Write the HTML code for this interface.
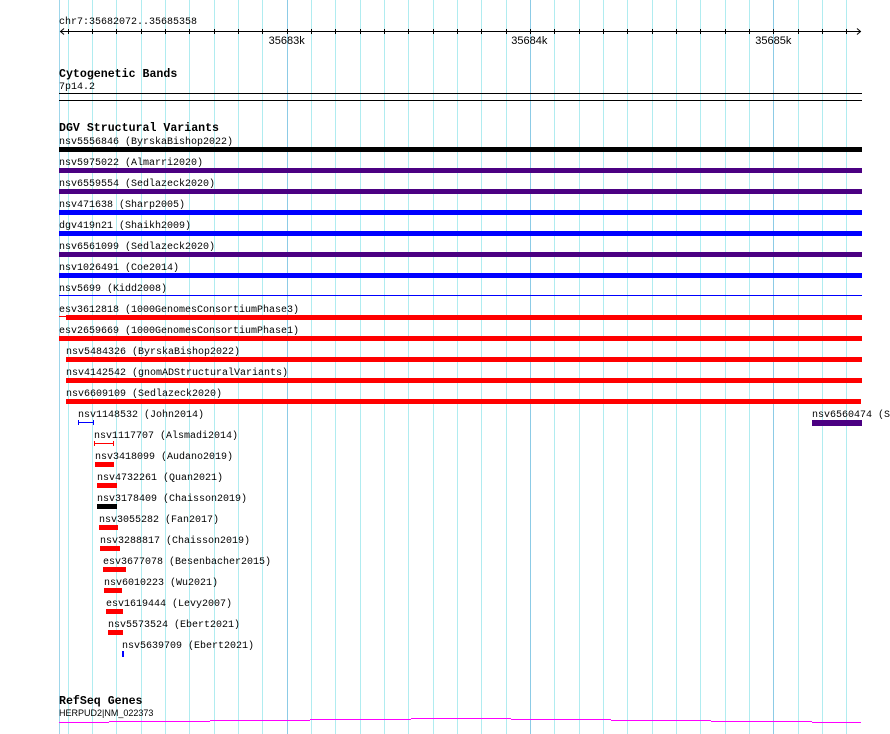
<!DOCTYPE html>
<html><head><meta charset="utf-8"><style>
html,body{margin:0;padding:0;background:#fff;}
svg{display:block;}
.m{font-family:"Liberation Mono",monospace;font-size:10px;fill:#000;}
.b{font-family:"Liberation Mono",monospace;font-size:11.6px;font-weight:bold;fill:#000;}
.s{font-family:"Liberation Sans",sans-serif;font-size:11px;fill:#000;}
</style></head><body>
<svg width="890" height="734" xmlns="http://www.w3.org/2000/svg">
<rect width="890" height="734" fill="#fff"/>
<g id="grid" stroke-width="1"></g>
<g id="main"></g>
<script>
var g=document.getElementById('grid'),m=document.getElementById('main');
var NS='http://www.w3.org/2000/svg';
function el(p,tag,a,t){var e=document.createElementNS(NS,tag);for(var k in a)e.setAttribute(k,a[k]);if(t)e.textContent=t;p.appendChild(e);return e;}
el(g,'line',{x1:59.5,x2:59.5,y1:0,y2:734,stroke:'#9fd6ea'});
for(var i=0;i<=32;i++){var x=Math.round(67.7+24.33*i)+0.5;var maj=(i==9||i==19||i==29);
el(g,'line',{x1:x,x2:x,y1:0,y2:734,stroke:maj?'#8ccbe6':'#b0ecf0'});}
el(m,'text',{x:59,y:24,'class':'m'},'chr7:35682072..35685358');
el(m,'line',{x1:60,x2:861,y1:31.5,y2:31.5,stroke:'#000'});
el(m,'polyline',{points:'64,28.5 60.5,31.5 64,34.5',fill:'none',stroke:'#000'});
el(m,'polyline',{points:'857,28.5 860.5,31.5 857,34.5',fill:'none',stroke:'#000'});
for(var i=0;i<=32;i++){var x=Math.round(67.7+24.33*i)+0.5;el(m,'line',{x1:x,x2:x,y1:29,y2:34,stroke:'#000'});}
[[286.7,'35683k'],[529.3,'35684k'],[773.3,'35685k']].forEach(function(a){el(m,'text',{x:a[0],y:44,'class':'s','text-anchor':'middle'},a[1]);});
el(m,'text',{x:59,y:77,'class':'b'},'Cytogenetic Bands');
el(m,'text',{x:59,y:89,'class':'m'},'7p14.2');
el(m,'rect',{x:59,y:93,width:803,height:1,fill:'#000'});
el(m,'rect',{x:59,y:100,width:803,height:1,fill:'#000'});
el(m,'text',{x:59,y:131,'class':'b'},'DGV Structural Variants');
var K='#000',P='#4b0082',B='#0000ff',R='#ff0000';
var rows=[
['nsv5556846 (ByrskaBishop2022)',59,59,862,K],
['nsv5975022 (Almarri2020)',59,59,862,P],
['nsv6559554 (Sedlazeck2020)',59,59,862,P],
['nsv471638 (Sharp2005)',59,59,862,B],
['dgv419n21 (Shaikh2009)',59,59,862,B],
['nsv6561099 (Sedlazeck2020)',59,59,862,P],
['nsv1026491 (Coe2014)',59,59,862,B],
['nsv5699 (Kidd2008)',59,59,862,B,'thin'],
['esv3612818 (1000GenomesConsortiumPhase3)',59,66,862,R,'lead'],
['esv2659669 (1000GenomesConsortiumPhase1)',59,59,862,R],
['nsv5484326 (ByrskaBishop2022)',66,66,862,R],
['nsv4142542 (gnomADStructuralVariants)',66,66,862,R],
['nsv6609109 (Sedlazeck2020)',66,66,861,R],
['nsv1148532 (John2014)',78,78,94,B,'cap'],
['nsv1117707 (Alsmadi2014)',94,94,114,R,'cap'],
['nsv3418099 (Audano2019)',95,95,114,R],
['nsv4732261 (Quan2021)',97,97,117,R],
['nsv3178409 (Chaisson2019)',97,97,117,K],
['nsv3055282 (Fan2017)',99,99,118,R],
['nsv3288817 (Chaisson2019)',100,100,120,R],
['esv3677078 (Besenbacher2015)',103,103,126,R],
['nsv6010223 (Wu2021)',104,104,122,R],
['esv1619444 (Levy2007)',106,106,123,R],
['nsv5573524 (Ebert2021)',108,108,123,R],
['nsv5639709 (Ebert2021)',122,122,124,B]];
rows.forEach(function(r,k){var top=147+21*k;
el(m,'text',{x:r[1],y:top-3,'class':'m'},r[0]);
if(r[5]=='thin'){el(m,'rect',{x:r[2],y:top+1,width:r[3]-r[2],height:1,fill:r[4]});}
else if(r[5]=='cap'){el(m,'rect',{x:r[2],y:top+2,width:r[3]-r[2],height:1,fill:r[4]});
el(m,'rect',{x:r[2],y:top,width:1,height:5,fill:r[4]});el(m,'rect',{x:r[3]-1,y:top,width:1,height:5,fill:r[4]});}
else{ if(r[5]=='lead')el(m,'rect',{x:59,y:top+1,width:7,height:1,fill:r[4]});
el(m,'rect',{x:r[2],y:top,width:r[3]-r[2],height:r[0].indexOf('nsv5639709')==0?6:5,fill:r[4]});}
});
el(m,'text',{x:812,y:417,'class':'m'},'nsv6560474 (Sedlazeck2020)');
el(m,'rect',{x:812,y:420,width:50,height:6,fill:P});
el(m,'text',{x:59,y:704,'class':'b'},'RefSeq Genes');
el(m,'text',{x:59,y:716,'class':'s',style:'font-size:9px'},'HERPUD2|NM_022373');
var segs=[[59,109,722],[109,210,721],[210,310,720],[310,411,719],[411,511,718],[511,611,719],[611,711,720],[711,812,721],[812,861,722]];
segs.forEach(function(s){el(m,'rect',{x:s[0],y:s[2],width:s[1]-s[0],height:1,fill:'#ff00ff'});});
</script>
</svg>
</body></html>
